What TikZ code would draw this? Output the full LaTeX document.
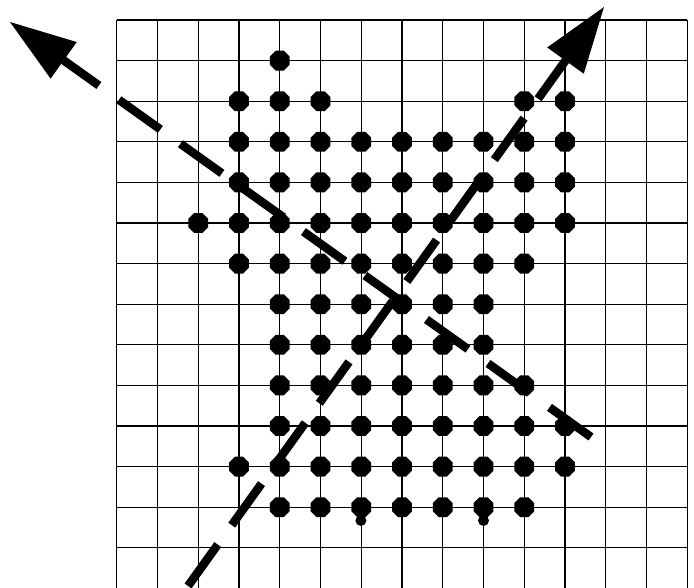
\documentclass[tikz,border=0pt]{standalone}
\usetikzlibrary{arrows.meta,shapes.geometric}
\begin{document}
\begin{tikzpicture}[x=1pt,y=-1pt,
  gridline/.style={line width=1.3pt, black},
  dot/.style={regular polygon, regular polygon sides=8, fill=black, draw=none, inner sep=0pt, minimum size=21.5pt},
  smalldot/.style={circle, fill=black, draw=none, inner sep=0pt, minimum size=11pt},
  bigarrow/.style={line width=8.5pt, line cap=butt, -{Triangle[length=66pt,width=45pt,line width'=0pt]}}
]
\useasboundingbox (0,0) rectangle (694,587);
% grid
\foreach \i in {0,...,14} \draw[gridline] ({116.7+40.76*\i},20) -- ({116.7+40.76*\i},590);
\foreach \j in {0,...,13} \draw[gridline] (116.7,{20+40.6*\j}) -- (687.3,{20+40.6*\j});
% dots
\foreach \j/\a/\b in {1/4/4, 2/3/5, 2/10/11, 3/3/11, 4/3/11, 5/2/11, 6/3/10, 7/4/9, 8/4/9, 9/4/10, 10/4/11, 11/3/11, 12/4/10} {
  \foreach \i in {\a,...,\b}
    \node[dot] (d\i-\j) at ({116.7+40.76*\i},{20+40.6*\j}) {};
}
\node[smalldot] (s1) at (360.9,520.5) {};
\node[smalldot] (s2) at (483.5,520.5) {};
% dashed arrows
\coordinate (e1) at (591,437);
\coordinate (t1) at (10,22);
\draw[bigarrow, dash pattern=on 51pt off 24.6pt] (e1) -- (t1);
\coordinate (b2) at (188,586);
\coordinate (t2) at (604,7);
\draw[bigarrow, dash pattern=on 51pt off 24pt] (b2) -- (t2);
\end{tikzpicture}
\end{document}
